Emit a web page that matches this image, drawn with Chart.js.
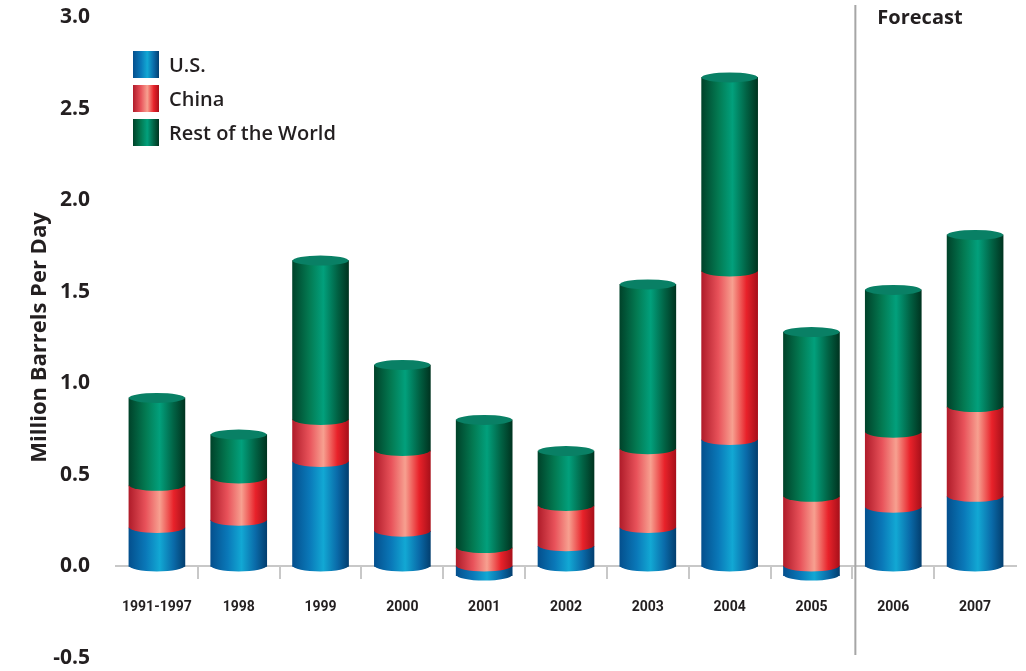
<!DOCTYPE html>
<html>
<head>
<meta charset="utf-8">
<script src="https://cdn.jsdelivr.net/npm/chart.js@4/dist/chart.umd.min.js"></script>
<style>
    html, body { margin: 0; padding: 0; background: #fff; }
    #wrap { position: relative; width: 1026px; height: 671px; }
    #legend { position: absolute; left: 133px; top: 47px; font-family: 'Open Sans', sans-serif; font-weight: 600; font-size: 20px; color: #231f20; }
    .item { display: flex; align-items: center; height: 34px; }
    .sw { width: 26px; height: 27px; margin-right: 10px; }
</style>
</head>
<body>
<div id="wrap">
    <canvas id="barChart" width="1026" height="671"></canvas>
    <div id="legend"></div>
</div>
<script>
const categories = ['1991-1997', '1998', '1999', '2000', '2001', '2002', '2003', '2004', '2005', '2006', '2007'];
const usValues    = [0.21, 0.25, 0.57, 0.19, -0.05, 0.11, 0.21, 0.69, -0.05, 0.32, 0.38];
const chinaValues = [0.23, 0.23, 0.23, 0.44, 0.10, 0.22, 0.43, 0.92, 0.38, 0.41, 0.49];
const restValues  = [0.48, 0.24, 0.87, 0.47, 0.70, 0.30, 0.90, 1.06, 0.90, 0.78, 0.94];
const yTicks = [-0.5, 0.0, 0.5, 1.0, 1.5, 2.0, 2.5, 3.0];
const forecastAfter = '2005';

// gradient stops for the cylinder look (left edge -> right edge)
const palettes = {
    us:    [[0, '#04508e'], [0.3, '#0a78b8'], [0.55, '#12a8d4'], [0.8, '#0a6aa8'], [1, '#033f70']],
    china: [[0, '#b01c2a'], [0.3, '#e8525a'], [0.55, '#f7a090'], [0.8, '#e8222a'], [1, '#a8101a']],
    rest:  [[0, '#00432a'], [0.3, '#037a52'], [0.55, '#02a07c'], [0.8, '#016244'], [1, '#003420']]
};
const capColor = '#098065';
const BAR_W = 56;

const makeFill = (name) => (ctx) => {
    const chart = ctx.chart;
    const xs = chart.scales.x;
    const x = xs && ctx.dataIndex !== undefined ? xs.getPixelForValue(ctx.dataIndex) : NaN;
    if (!Number.isFinite(x)) return palettes[name][2][1];
    const g = chart.ctx.createLinearGradient(x - BAR_W / 2, 0, x + BAR_W / 2, 0);
    palettes[name].forEach(([o, c]) => g.addColorStop(o, c));
    return g;
};

// rounded bottoms and top caps of the cylinders
const cylinderPlugin = {
    id: 'cylinder',
    afterDatasetsDraw(chart) {
        const c = chart.ctx;
        const last = chart.data.datasets.length - 1;
        chart.data.datasets.forEach((ds, di) => {
            const meta = chart.getDatasetMeta(di);
            meta.data.forEach((bar) => {
                const { x, y, base, width } = bar.getProps(['x', 'y', 'base', 'width']);
                const lower = Math.max(y, base);
                const upper = Math.min(y, base);
                c.save();
                c.fillStyle = bar.options.backgroundColor;
                c.beginPath();
                c.ellipse(x, lower - 1, width / 2, 6, 0, 0, Math.PI);
                c.fill();
                if (di === last) {
                    c.fillStyle = capColor;
                    c.beginPath();
                    c.ellipse(x, upper, width / 2, 5, 0, 0, Math.PI * 2);
                    c.fill();
                }
                c.restore();
            });
        });
    }
};

// forecast divider and label
const forecastPlugin = {
    id: 'forecast',
    afterDraw(chart) {
        const xs = chart.scales.x;
        const i = categories.indexOf(forecastAfter);
        const xPos = (xs.getPixelForValue(i) + xs.getPixelForValue(i + 1)) / 2 + 3;
        const c = chart.ctx;
        c.save();
        c.strokeStyle = '#a6a6a6';
        c.lineWidth = 2;
        c.beginPath();
        c.moveTo(xPos, 5);
        c.lineTo(xPos, 655);
        c.stroke();
        c.fillStyle = '#231f20';
        c.font = 'bold 20px "Open Sans", sans-serif';
        c.textBaseline = 'middle';
        c.fillText('Forecast', xPos + 22, 18);
        c.restore();
    }
};

const chart = new Chart(document.getElementById('barChart'), {
    type: 'bar',
    data: {
        labels: categories,
        datasets: [
            { label: 'U.S.', data: usValues, backgroundColor: makeFill('us') },
            { label: 'China', data: chinaValues, backgroundColor: makeFill('china') },
            { label: 'Rest of the World', data: restValues, backgroundColor: makeFill('rest') }
        ]
    },
    options: {
        responsive: false,
        animation: false,
        barThickness: BAR_W,
        borderSkipped: false,
        layout: { padding: { top: 17, bottom: 13, right: 10, left: 0 } },
        plugins: { legend: { display: false }, tooltip: { enabled: false } },
        scales: {
            x: {
                stacked: true,
                position: { y: 0 },
                afterFit: s => { s.height = 0; },
                border: { color: '#c8c8c8', width: 2 },
                grid: {
                    offset: true,
                    drawOnChartArea: false,
                    tickLength: 12,
                    lineWidth: 2,
                    color: ctx => (ctx.index > 0 ? '#c8c8c8' : 'rgba(0,0,0,0)')
                },
                ticks: {
                    padding: 21,
                    maxRotation: 0,
                    minRotation: 0,
                    autoSkip: false,
                    color: '#231f20',
                    font: { family: "Roboto, sans-serif", weight: 'bold', size: 14 }
                }
            },
            y: {
                stacked: true,
                min: yTicks[0],
                max: yTicks[yTicks.length - 1],
                afterFit: s => { s.width = 116; s.paddingTop = 0; s.paddingBottom = 0; },
                afterBuildTicks: s => { s.ticks = yTicks.map(v => ({ value: v })); },
                border: { display: false },
                grid: { display: false, drawTicks: false },
                ticks: {
                    padding: 26,
                    color: '#231f20',
                    callback: v => v.toFixed(1),
                    font: { family: "'Open Sans', sans-serif", weight: 'bold', size: 21 }
                },
                title: {
                    display: true,
                    text: 'Million Barrels Per Day',
                    color: '#231f20',
                    padding: { top: 27, bottom: 0 },
                    font: { family: "'Open Sans', sans-serif", weight: 'bold', size: 22 }
                }
            }
        }
    },
    plugins: [cylinderPlugin, forecastPlugin]
});

// legend with the same gradient swatches
const legendEl = document.getElementById('legend');
legendEl.innerHTML = [['us', 'U.S.'], ['china', 'China'], ['rest', 'Rest of the World']].map(([k, label]) => {
    const stops = palettes[k].map(([o, c]) => `${c} ${o * 100}%`).join(', ');
    return `<div class="item"><div class="sw" style="background: linear-gradient(to right, ${stops})"></div>${label}</div>`;
}).join('');
</script>
</body>
</html>
